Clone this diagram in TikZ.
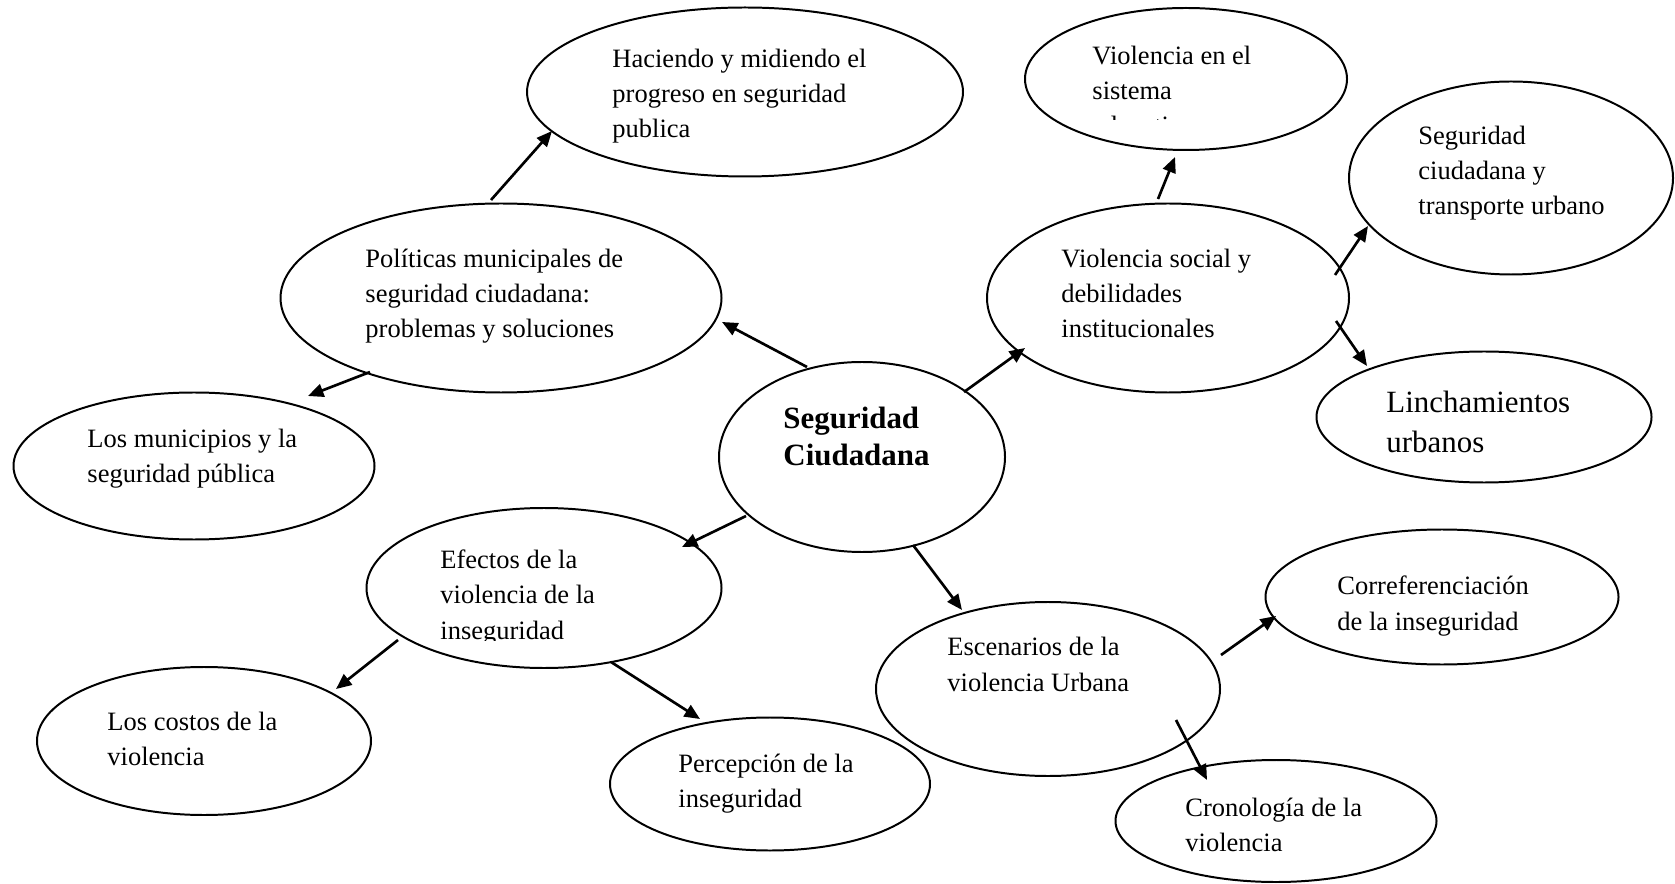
\documentclass[tikz,border=0pt]{standalone}
\usepackage{fontspec}
\setmainfont{Liberation Serif}
\usetikzlibrary{shapes.geometric,arrows.meta,calc}
\newcommand{\pxu}{0.4528pt}
\tikzstyle{bubble}=[draw, ellipse, line width=0.9pt, inner sep=0pt]
\tikzstyle{txt}=[anchor=base west, inner sep=0pt, align=left, font=\fontsize{12}{15.85}\selectfont]
\tikzstyle{link}=[-{Triangle[length=7pt,width=6pt]}, line width=1.2pt]

\begin{document}
\begin{tikzpicture}[x=\pxu, y=-\pxu]
	\useasboundingbox (0,0) rectangle (1675,884);

	% bubbles
	\node[bubble, minimum width=436*\pxu, minimum height=169*\pxu] (hac) at (745,92) {};
	\node[bubble, minimum width=322*\pxu, minimum height=142*\pxu] (vsis) at (1186,79) {};
	\node[bubble, minimum width=324*\pxu, minimum height=193*\pxu] (trans) at (1511,178) {};
	\node[bubble, minimum width=441*\pxu, minimum height=189*\pxu] (pol) at (501,298) {};
	\node[bubble, minimum width=362*\pxu, minimum height=189*\pxu] (vsoc) at (1168,298) {};
	\node[bubble, minimum width=335*\pxu, minimum height=131*\pxu] (linch) at (1484,417) {};
	\node[bubble, minimum width=286*\pxu, minimum height=190*\pxu] (cen) at (862,457) {};
	\node[bubble, minimum width=361*\pxu, minimum height=147*\pxu] (mun) at (194,466) {};
	\node[bubble, minimum width=355*\pxu, minimum height=160*\pxu] (efe) at (544,588) {};
	\node[bubble, minimum width=353*\pxu, minimum height=135*\pxu] (corr) at (1442,597) {};
	\node[bubble, minimum width=344*\pxu, minimum height=174*\pxu] (esc) at (1048,689) {};
	\node[bubble, minimum width=334*\pxu, minimum height=148*\pxu] (cost) at (204,741) {};
	\node[bubble, minimum width=320*\pxu, minimum height=133*\pxu] (perc) at (770,784) {};
	\node[bubble, minimum width=321*\pxu, minimum height=122*\pxu] (cron) at (1276,821) {};

	% texts (anchored on the last line)
	\node[txt] (hacT) at (612,138) {Haciendo y midiendo el\\progreso en seguridad\\publica};
	\begin{scope}
		\clip (1080,30) rectangle (1300,120);
		\node[txt] (vsisT) at (1092,135) {Violencia en el\\sistema\\educativo};
	\end{scope}
	\node[txt] (transT) at (1418,215) {Seguridad\\ciudadana y\\transporte urbano};
	\node[txt] (polT) at (365,338) {Políticas municipales de\\seguridad ciudadana:\\problemas y soluciones};
	\node[txt] (vsocT) at (1061,338) {Violencia social y\\debilidades\\institucionales};
	\node[txt, font=\fontsize{14}{18.1}\selectfont] (linchT) at (1386,452) {Linchamientos\\urbanos};
	\node[txt, font=\fontsize{14}{17.2}\selectfont\bfseries] (cenT) at (783,466) {Seguridad\\Ciudadana};
	\node[txt] (munT) at (87,483) {Los municipios y la\\seguridad pública};
	\begin{scope}
		\clip (420,530) rectangle (700,640);
		\node[txt] (efeT) at (440,639) {Efectos de la\\violencia de la\\inseguridad};
	\end{scope}
	\node[txt] (corrT) at (1337,630) {Correferenciación\\de la inseguridad};
	\node[txt] (escT) at (947,691) {Escenarios de la\\violencia Urbana};
	\node[txt] (costT) at (107,765) {Los costos de la\\violencia};
	\node[txt] (percT) at (678,807) {Percepción de la\\inseguridad};
	\node[txt] (cronT) at (1185,851) {Cronología de la\\violencia};

	% arrows
	\draw[link] ($(pol)+(-10,-98)$) -- ($(hac)+(-193,39)$);
	\draw[link] ($(cen)+(-55,-90)$) -- ($(pol)+(221,24)$);
	\draw[link] ($(pol)+(-131,74)$) -- ($(mun)+(114,-70)$);
	\draw[link] ($(cen)+(102,-65)$) -- ($(vsoc)+(-143,50)$);
	\draw[link] ($(vsoc)+(-10,-99)$) -- ($(vsis)+(-11,78)$);
	\draw[link] ($(vsoc)+(167,-23)$) -- ($(trans)+(-143,48)$);
	\draw[link] ($(vsoc)+(168,23)$) -- ($(linch)+(-117,-51)$);
	\draw[link] ($(cen)+(-116,59)$) -- ($(efe)+(138,-41)$);
	\draw[link] ($(cen)+(51,88)$) -- ($(esc)+(-86,-79)$);
	\draw[link] ($(efe)+(-146,52)$) -- ($(cost)+(132,-52)$);
	\draw[link] ($(efe)+(67,74)$) -- ($(perc)+(-70,-65)$);
	\draw[link] ($(esc)+(173,-34)$) -- ($(corr)+(-166,19)$);
	\draw[link] ($(esc)+(128,31)$) -- ($(cron)+(-69,-41)$);

\end{tikzpicture}
\end{document}
